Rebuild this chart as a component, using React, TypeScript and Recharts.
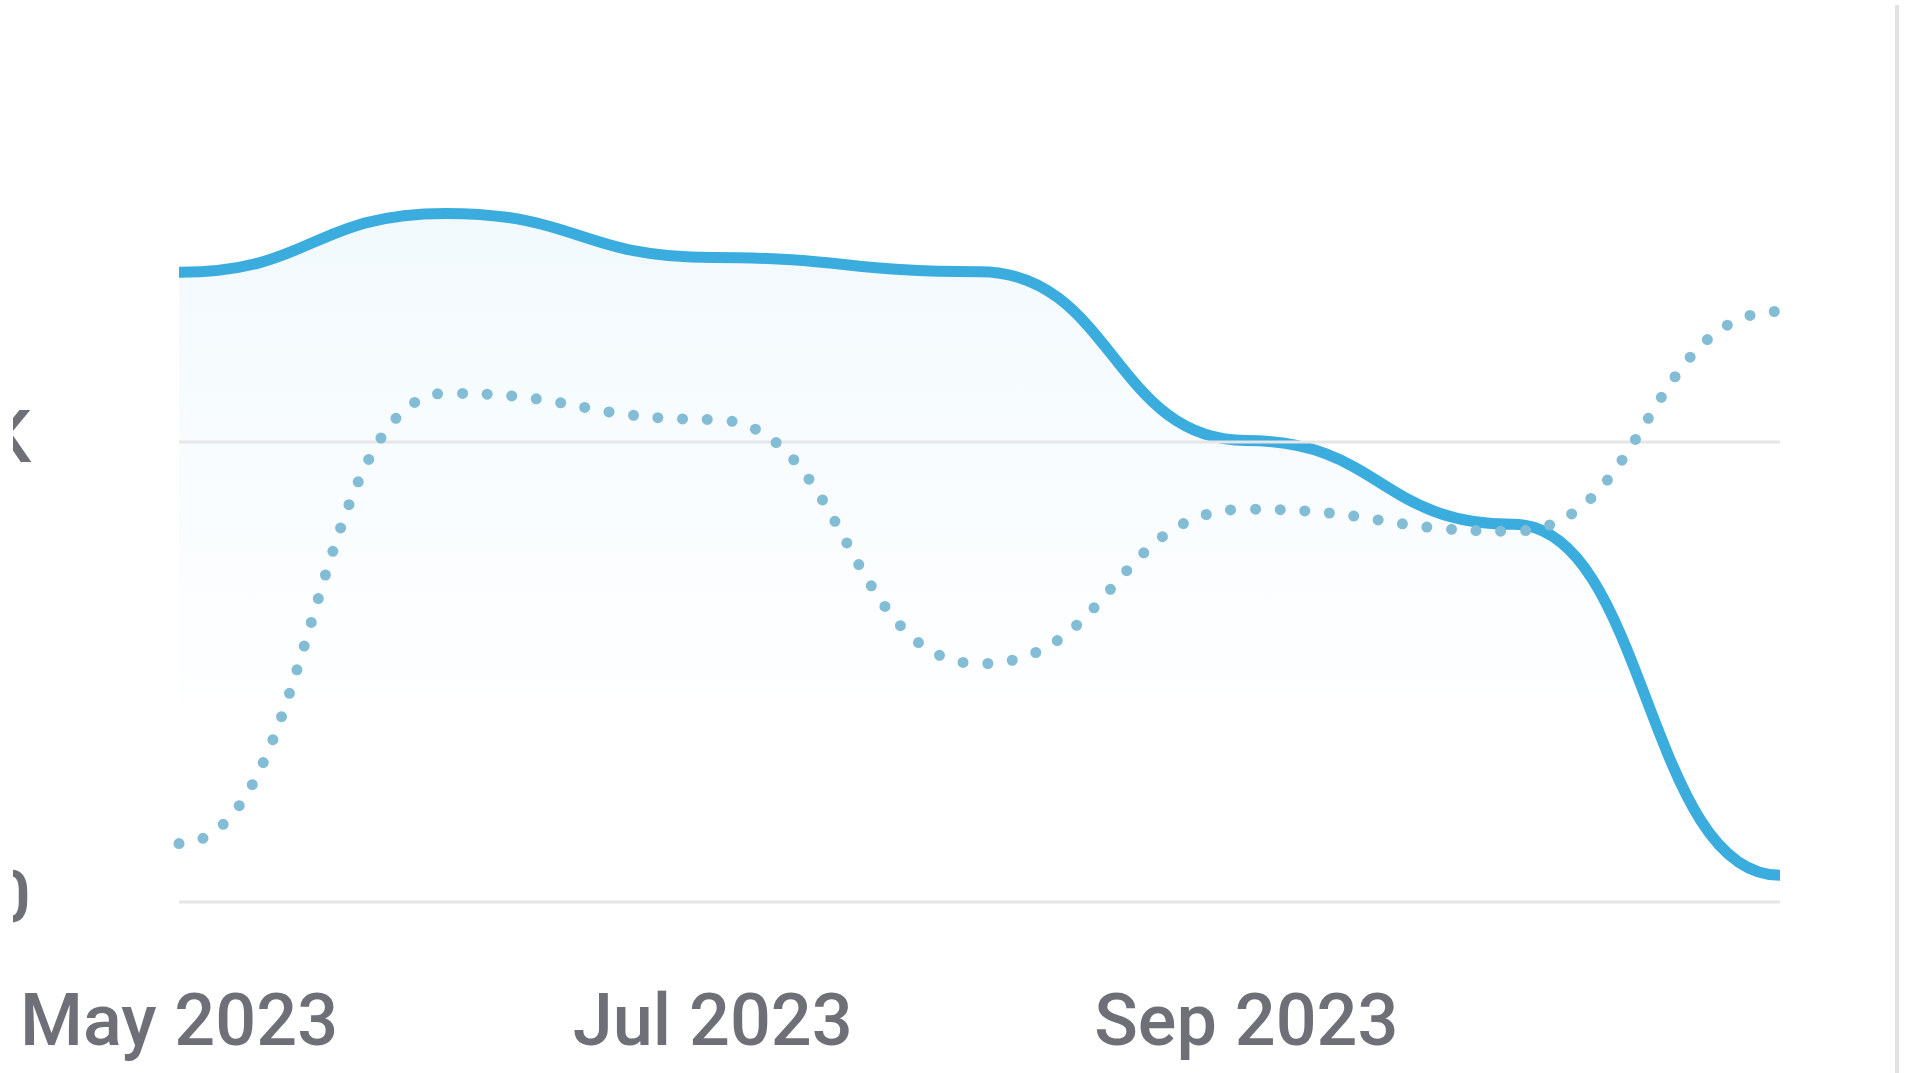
import React from "react";
import { ComposedChart, Area, Line, XAxis, YAxis, ReferenceLine } from "recharts";

const months = ["May 2023", "Jun 2023", "Jul 2023", "Aug 2023", "Sep 2023", "Oct 2023", "Nov 2023"];
const currentValues = [1369, 1497, 1401, 1370, 1003, 821, 58];
const previousValues = [127, 1106, 1049, 518, 854, 806, 1284];
const xTicks = ["May 2023", "Jul 2023", "Sep 2023"];
const yTicks = [0, 1000];

const data = months.map((m, i) => ({ month: m, current: currentValues[i], previous: previousValues[i] }));

const fmtY = (v: number) => (v === 0 ? "0" : `${v / 1000}K`);

const FONT = { fontSize: 72, fill: "#6f6f77", fontFamily: "Roboto", fontWeight: 500 };

const YTick = (props: any) => {
  const { x, y, payload } = props;
  return (
    <text x={x} y={y - 6} dy="0.355em" textAnchor="end" {...FONT}>
      {fmtY(payload.value)}
    </text>
  );
};

export default function App() {
  return (
    <div>
      <div style={{ position: "absolute", left: 13, top: 0, width: 1880, height: 1073, overflow: "hidden", background: "#fff" }}>
        <div style={{ position: "absolute", left: -13, top: 0 }}>
          <ComposedChart width={1911} height={1073} data={data} margin={{ top: 74, right: 131, left: 0, bottom: 0 }}>
            <defs>
              <linearGradient id="fillGrad" x1="0" y1="0" x2="0" y2="1">
                <stop offset="0%" stopColor="#3aacde" stopOpacity={0.11} />
                <stop offset="78%" stopColor="#3aacde" stopOpacity={0} />
              </linearGradient>
            </defs>
            <XAxis
              dataKey="month"
              ticks={xTicks}
              interval={0}
              axisLine={false}
              tickLine={false}
              tickSize={0}
              tickMargin={92}
              height={171}
              tick={FONT}
            />
            <YAxis
              domain={[0, 1800]}
              ticks={yTicks}
              axisLine={false}
              tickLine={false}
              tickSize={0}
              tickMargin={148}
              width={179}
              tick={<YTick />}
            />
            {yTicks.map((t) => (
              <ReferenceLine key={t} y={t} stroke="#e6e6e9" strokeWidth={3} ifOverflow="extendDomain" />
            ))}
            <Area
              type="bumpX"
              dataKey="current"
              stroke="#3aacde"
              strokeWidth={11}
              fill="url(#fillGrad)"
              dot={false}
              activeDot={false}
              isAnimationActive={false}
            />
            <Line
              type="bumpX"
              dataKey="previous"
              stroke="#82bdd5"
              strokeWidth={11}
              strokeDasharray="0 24.7"
              strokeLinecap="round"
              dot={false}
              activeDot={false}
              isAnimationActive={false}
            />
          </ComposedChart>
        </div>
      </div>
      <div style={{ position: "absolute", left: 1895, top: 5, width: 4, height: 1068, background: "#e2e2e2" }} />
    </div>
  );
}
